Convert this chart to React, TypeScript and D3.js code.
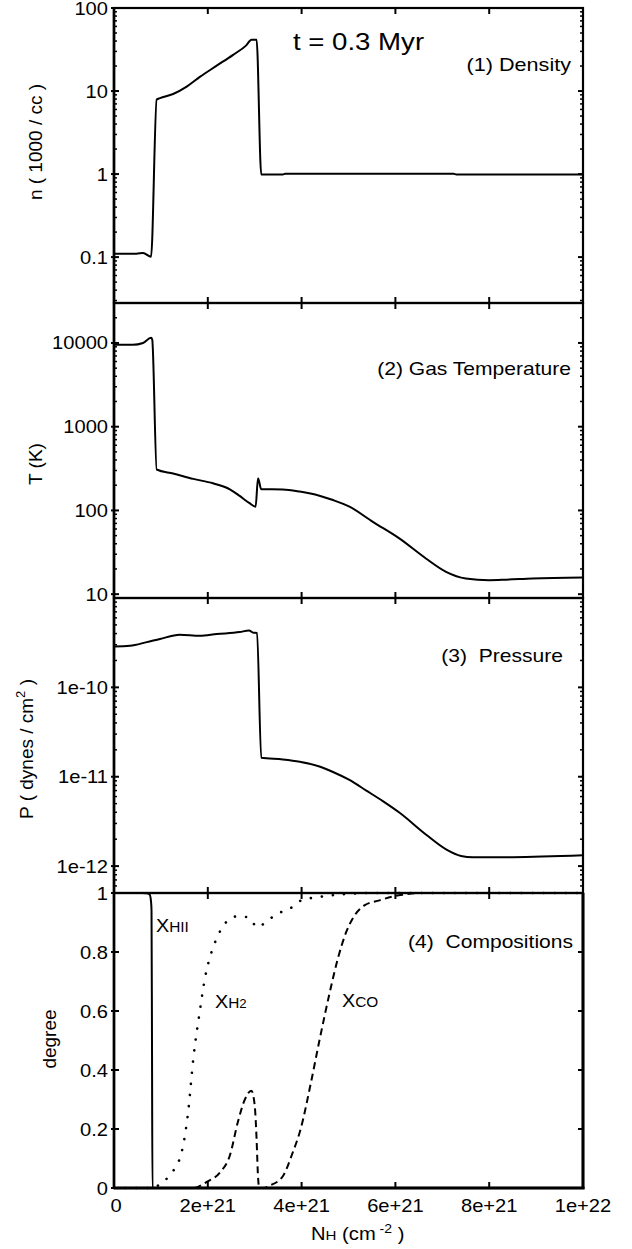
import React from "react";
import * as d3 from "d3";

// ---------- data (x in units of 1e21 cm^-2) ----------
const xTickValues = [0, 2, 4, 6, 8, 10];
const xTickLabels = ["0", "2e+21", "4e+21", "6e+21", "8e+21", "1e+22"];

const densityX = [0, 0.48, 0.62, 0.79, 0.91, 0.98, 1.26, 1.55, 1.83, 2.19, 2.54, 2.82, 2.93, 3.04, 3.14, 3.6, 3.65, 7.24, 7.3, 10];
const densityY = [0.11, 0.11, 0.112, 0.101, 7.9, 8.2, 9.2, 11.3, 14.8, 20.2, 27.3, 35.5, 41.5, 41.5, 0.99, 0.99, 1.01, 1.01, 0.99, 0.99];
const densityTicks = [0.1, 1, 10, 100];
const densityTickLabels = ["0.1", "1", "10", "100"];

const tempX = [0, 0.4, 0.62, 0.79, 0.815, 0.91, 1.26, 1.69, 2.11, 2.47, 2.68, 2.89, 3.02, 3.07, 3.14, 3.6, 3.96, 4.38, 4.67, 5.02, 5.52, 6.09, 6.65, 7.08, 7.5, 8.0, 8.36, 8.92, 10];
const tempY = [9500, 9500, 10000, 11500, 11000, 308, 276, 238, 211, 179, 149, 122, 111, 243, 179, 178, 168, 150, 133, 111, 73, 46, 26.7, 18.5, 15.4, 14.7, 14.9, 15.4, 15.8];
const tempTicks = [10, 100, 1000, 10000];
const tempTickLabels = ["10", "100", "1000", "10000"];

const presX = [0, 0.34, 0.7, 0.98, 1.4, 1.83, 2.19, 2.68, 2.88, 2.96, 3.05, 3.14, 3.6, 3.96, 4.38, 4.67, 5.02, 5.38, 5.74, 6.09, 6.65, 7.08, 7.4, 7.65, 8.5, 10];
const presY = [2.87e-10, 2.92e-10, 3.21e-10, 3.48e-10, 3.88e-10, 3.78e-10, 3.95e-10, 4.16e-10, 4.33e-10, 4.1e-10, 4.05e-10, 1.63e-11, 1.56e-11, 1.47e-11, 1.3e-11, 1.13e-11, 9.2e-12, 7.0e-12, 5.3e-12, 3.95e-12, 2.26e-12, 1.54e-12, 1.3e-12, 1.26e-12, 1.26e-12, 1.32e-12];
const presTicks = [1e-12, 1e-11, 1e-10];
const presTickLabels = ["1e-12", "1e-11", "1e-10"];

const xhiiX = [0, 0.6, 0.7, 0.76, 0.79, 0.8, 0.81, 0.82, 10];
const xhiiY = [1, 1, 0.999, 0.995, 0.97, 0.94, 0.5, 0, 0];

const xh2X = [0, 0.8, 0.98, 1.19, 1.44, 1.58, 1.69, 1.83, 1.94, 2.08, 2.2, 2.36, 2.6, 2.86, 3.06, 3.28, 3.52, 3.78, 3.99, 4.31, 4.53, 5.0, 5.5, 10];
const xh2Y = [0, 0, 0.013, 0.044, 0.12, 0.257, 0.437, 0.6, 0.712, 0.8, 0.85, 0.895, 0.92, 0.918, 0.884, 0.908, 0.932, 0.95, 0.975, 0.985, 0.99, 0.997, 1, 1];

const xcoX = [0, 1.7, 1.97, 2.26, 2.47, 2.64, 2.79, 2.93, 3.0, 3.04, 3.07, 3.1, 3.2, 3.32, 3.6, 3.81, 3.98, 4.2, 4.38, 4.6, 4.77, 4.95, 5.13, 5.34, 5.66, 5.94, 6.16, 6.5, 10];
const xcoY = [0, 0, 0.02, 0.053, 0.11, 0.223, 0.3, 0.33, 0.28, 0.166, 0.04, 0, 0, 0.008, 0.04, 0.12, 0.2, 0.358, 0.5, 0.663, 0.776, 0.867, 0.924, 0.958, 0.975, 0.988, 0.994, 1, 1];

const compTicks = [0, 0.2, 0.4, 0.6, 0.8, 1];
const compTickLabels = ["0", "0.2", "0.4", "0.6", "0.8", "1"];

// ---------- layout ----------
const W = 632;
const H = 1249;
const L = 114;
const R = 583;
const FONT = "'Liberation Sans', Arial, Helvetica, sans-serif";
const SX = 1.15;

const x = d3.scaleLinear().domain([0, 10]).range([L, R]);

const panels = [
  { top: 8, bottom: 303, scale: d3.scaleLog().domain([0.028, 100]).range([303, 8]), log: true },
  { top: 303, bottom: 598, scale: d3.scaleLog().domain([9, 30000]).range([598, 303]), log: true },
  { top: 598, bottom: 893, scale: d3.scaleLog().domain([5e-13, 1e-9]).range([893, 598]), log: true },
  { top: 893, bottom: 1188, scale: d3.scaleLinear().domain([0, 1]).range([1188, 893]), log: false },
];

function Txt({ x, y, size, anchor = "start", sx = SX, children }: any) {
  return (
    <text
      transform={`translate(${x},${y}) scale(${sx},1)`}
      fontSize={size}
      textAnchor={anchor}
      fontFamily={FONT}
      fill="#000"
      style={{ whiteSpace: "pre" }}
    >
      {children}
    </text>
  );
}

function RTxt({ x, y, size, children }: any) {
  return (
    <text
      transform={`translate(${x},${y}) rotate(-90)`}
      fontSize={size}
      textAnchor="middle"
      fontFamily={FONT}
      fill="#000"
      style={{ whiteSpace: "pre" }}
    >
      {children}
    </text>
  );
}

function pathFor(xs: number[], ys: number[], y: any) {
  const pts = xs.map((v, i) => [v, ys[i]] as [number, number]);
  const line = d3
    .line<[number, number]>()
    .x((d) => x(d[0]))
    .y((d) => y(d[1]))
    .curve(d3.curveMonotoneX);
  return line(pts) || "";
}

function PanelAxes({ p, majors, labels }: any) {
  const y = p.scale;
  const els: any[] = [];
  if (p.log) {
    const [d0, d1] = y.domain();
    const minors: number[] = [];
    for (let e = Math.floor(Math.log10(d0)); e <= Math.ceil(Math.log10(d1)); e++) {
      for (let k = 2; k <= 9; k++) {
        const v = k * Math.pow(10, e);
        if (v > d0 && v < d1) minors.push(v);
      }
    }
    minors.forEach((v, i) => {
      const yy = y(v);
      els.push(<line key={"ml" + i} x1={L} x2={L + 3} y1={yy} y2={yy} stroke="#000" strokeWidth={1.5} />);
      els.push(<line key={"mr" + i} x1={R} x2={R - 3} y1={yy} y2={yy} stroke="#000" strokeWidth={1.5} />);
    });
  }
  majors.forEach((v: number, i: number) => {
    const yy = y(v);
    els.push(<line key={"Ml" + i} x1={L - 3} x2={L + 5} y1={yy} y2={yy} stroke="#000" strokeWidth={2} />);
    els.push(<line key={"Mr" + i} x1={R} x2={R - 5} y1={yy} y2={yy} stroke="#000" strokeWidth={2} />);
    els.push(
      <Txt key={"t" + i} x={L - 6} y={yy + 6.5} size={17.5} anchor="end">
        {labels[i]}
      </Txt>
    );
  });
  xTickValues.slice(1, -1).forEach((v, i) => {
    els.push(<line key={"xt" + i} x1={x(v)} x2={x(v)} y1={p.top} y2={p.top + 6} stroke="#000" strokeWidth={2} />);
    els.push(<line key={"xb" + i} x1={x(v)} x2={x(v)} y1={p.bottom} y2={p.bottom - 6} stroke="#000" strokeWidth={2} />);
  });
  els.push(
    <rect key="frame" x={L} y={p.top} width={R - L} height={p.bottom - p.top} fill="none" stroke="#000" strokeWidth={2.2} />
  );
  return <g>{els}</g>;
}

export default function App() {
  const [p1, p2, p3, p4] = panels;
  return (
    <svg
      width={W}
      height={H}
      viewBox={`0 0 ${W} ${H}`}
      style={{ position: "absolute", left: 0, top: 0, background: "#fff" }}
    >
      <rect x={0} y={0} width={W} height={H} fill="#fff" />

      {/* data */}
      <path d={pathFor(densityX, densityY, p1.scale)} fill="none" stroke="#000" strokeWidth={2} />
      <path d={pathFor(tempX, tempY, p2.scale)} fill="none" stroke="#000" strokeWidth={2} />
      <path d={pathFor(presX, presY, p3.scale)} fill="none" stroke="#000" strokeWidth={2} />
      <path d={pathFor(xhiiX, xhiiY, p4.scale)} fill="none" stroke="#000" strokeWidth={2} />
      <path
        d={pathFor(xh2X, xh2Y, p4.scale)}
        fill="none"
        stroke="#000"
        strokeWidth={2.6}
        strokeLinecap="round"
        strokeDasharray="0.1 11"
      />
      <path d={pathFor(xcoX, xcoY, p4.scale)} fill="none" stroke="#000" strokeWidth={2} strokeDasharray="7 4.5" />

      {/* axes */}
      <PanelAxes p={p1} majors={densityTicks} labels={densityTickLabels} />
      <PanelAxes p={p2} majors={tempTicks} labels={tempTickLabels} />
      <PanelAxes p={p3} majors={presTicks} labels={presTickLabels} />
      <PanelAxes p={p4} majors={compTicks} labels={compTickLabels} />
      <line x1={L} x2={L} y1={8} y2={1188} stroke="#000" strokeWidth={2.6} />
      <line x1={R} x2={R} y1={893} y2={1189} stroke="#000" strokeWidth={3} />
      <line x1={L} x2={R + 1.5} y1={1188} y2={1188} stroke="#000" strokeWidth={3} />

      {/* x tick labels */}
      {xTickValues.map((v, i) => (
        <Txt key={"xl" + i} x={x(v) + (i === 0 ? 2 : 0)} y={1212} size={17.5} anchor="middle">
          {xTickLabels[i]}
        </Txt>
      ))}

      {/* x title */}
      <text
        transform="translate(311,1240) scale(1.12,1)"
        fontFamily={FONT}
        fontSize={18}
        fill="#000"
        style={{ whiteSpace: "pre" }}
      >
        N<tspan fontSize={13.5}>H</tspan> (cm<tspan fontSize={12.5} dy={-7}> -2</tspan>
        <tspan dy={7}> )</tspan>
      </text>

      {/* y titles */}
      <RTxt x={42} y={142} size={19}>
        n ( 1000 / cc )
      </RTxt>
      <RTxt x={42} y={464} size={19}>
        T (K)
      </RTxt>
      <text
        transform="translate(33,749) rotate(-90)"
        fontSize={19}
        textAnchor="middle"
        fontFamily={FONT}
        fill="#000"
        style={{ whiteSpace: "pre" }}
      >
        P ( dynes / cm<tspan fontSize={13} dy={-8}>2</tspan>
        <tspan dy={8}> )</tspan>
      </text>
      <RTxt x={56} y={1039} size={19}>
        degree
      </RTxt>

      {/* annotations */}
      <Txt x={293} y={50} size={23} sx={1.2}>
        t = 0.3 Myr
      </Txt>
      <Txt x={571} y={71} size={18} anchor="end" sx={1.2}>
        (1) Density
      </Txt>
      <Txt x={571} y={375} size={18} anchor="end" sx={1.17}>
        (2) Gas Temperature
      </Txt>
      <Txt x={563} y={662} size={18} anchor="end" sx={1.17}>
        (3)  Pressure
      </Txt>
      <Txt x={573} y={948} size={18} anchor="end" sx={1.17}>
        (4)  Compositions
      </Txt>

      <text transform="translate(156,932) scale(1.1,1)" fontFamily={FONT} fontSize={18} fill="#000">
        X<tspan fontSize={14}>HII</tspan>
      </text>
      <text transform="translate(215,1008) scale(1.1,1)" fontFamily={FONT} fontSize={18} fill="#000">
        X<tspan fontSize={14}>H</tspan>
        <tspan fontSize={12}>2</tspan>
      </text>
      <text transform="translate(342,1007) scale(1.1,1)" fontFamily={FONT} fontSize={18} fill="#000">
        X<tspan fontSize={14}>CO</tspan>
      </text>
    </svg>
  );
}
